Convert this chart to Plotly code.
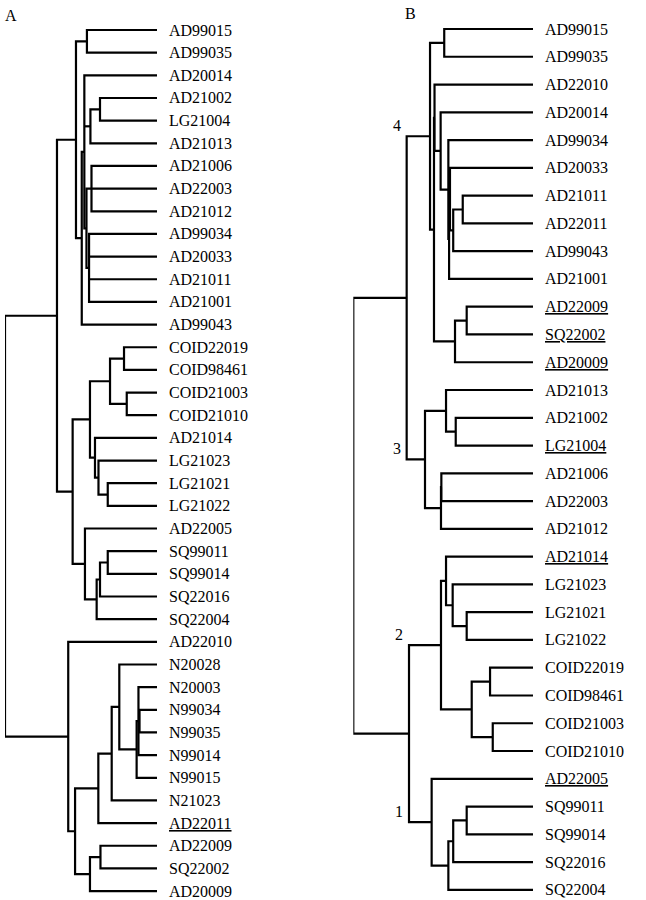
import plotly.graph_objects as go

FONT = "Liberation Serif, Times New Roman, serif"

# ---------------- Tree A ----------------
leaves_A = ["AD99015", "AD99035", "AD20014", "AD21002", "LG21004", "AD21013",
            "AD21006", "AD22003", "AD21012", "AD99034", "AD20033", "AD21011",
            "AD21001", "AD99043", "COID22019", "COID98461", "COID21003",
            "COID21010", "AD21014", "LG21023", "LG21021", "LG21022", "AD22005",
            "SQ99011", "SQ99014", "SQ22016", "SQ22004", "AD22010", "N20028",
            "N20003", "N99034", "N99035", "N99014", "N99015", "N21023",
            "AD22011", "AD22009", "SQ22002", "AD20009"]
underlined_A = ["AD22011"]
# (node name, children, height)
nodes_A = [
    ("a1", ["AD99015", "AD99035"], 0.461),
    ("a2", ["AD21002", "LG21004"], 0.375),
    ("a3", ["a2", "AD21013"], 0.438),
    ("a4", ["AD21006", "AD22003", "AD21012"], 0.431),
    ("a5", ["AD99034", "AD20033", "AD21011", "AD21001"], 0.447),
    ("a6", ["a4", "a5"], 0.464),
    ("a7", ["AD20014", "a3", "a6"], 0.478),
    ("a8", ["a7", "AD99043"], 0.495),
    ("a9", ["a1", "a8"], 0.533),
    ("c1", ["COID22019", "COID98461"], 0.217),
    ("c2", ["COID21003", "COID21010"], 0.199),
    ("c3", ["c1", "c2"], 0.309),
    ("c4", ["LG21021", "LG21022"], 0.324),
    ("c5", ["LG21023", "c4"], 0.385),
    ("c6", ["AD21014", "c5"], 0.408),
    ("c7", ["c3", "c6"], 0.441),
    ("d1", ["SQ99011", "SQ99014"], 0.324),
    ("d2", ["d1", "SQ22016"], 0.375),
    ("d3", ["d2", "SQ22004"], 0.397),
    ("d4", ["AD22005", "d3"], 0.474),
    ("b", ["c7", "d4"], 0.555),
    ("U", ["a9", "b"], 0.658),
    ("na", ["N99034", "N99035"], 0.115),
    ("nb", ["N20003", "na", "N99014"], 0.122),
    ("nc", ["nb", "N99015"], 0.134),
    ("e3", ["N20028", "nc"], 0.248),
    ("e2", ["e3", "N21023"], 0.298),
    ("e1", ["e2", "AD22011"], 0.386),
    ("f1", ["AD22009", "SQ22002"], 0.372),
    ("f2", ["f1", "AD20009"], 0.441),
    ("e", ["e1", "f2"], 0.539),
    ("L", ["AD22010", "e"], 0.584),
    ("rootA", ["U", "L"], 1.0),
]

# ---------------- Tree B ----------------
leaves_B = ["AD99015", "AD99035", "AD22010", "AD20014", "AD99034", "AD20033",
            "AD21011", "AD22011", "AD99043", "AD21001", "AD22009", "SQ22002",
            "AD20009", "AD21013", "AD21002", "LG21004", "AD21006", "AD22003",
            "AD21012", "AD21014", "LG21023", "LG21021", "LG21022", "COID22019",
            "COID98461", "COID21003", "COID21010", "AD22005", "SQ99011",
            "SQ99014", "SQ22016", "SQ22004"]
underlined_B = ["AD22009", "SQ22002", "AD20009", "LG21004", "AD21014", "AD22005"]
nodes_B = [
    ("g1", ["AD99015", "AD99035"], 0.494),
    ("k1", ["AD21011", "AD22011"], 0.391),
    ("k2", ["k1", "AD99043"], 0.444),
    ("k3", ["AD20033", "k2"], 0.462),
    ("k4", ["k3", "AD21001"], 0.467),
    ("j", ["AD99034", "k4"], 0.471),
    ("i", ["AD20014", "j"], 0.514),
    ("h1", ["AD22010", "i"], 0.548),
    ("l1", ["AD22009", "SQ22002"], 0.369),
    ("l2", ["l1", "AD20009"], 0.434),
    ("h", ["h1", "l2"], 0.551),
    ("g", ["g1", "h"], 0.573),
    ("m1", ["AD21002", "LG21004"], 0.430),
    ("m2", ["AD21013", "m1"], 0.484),
    ("m3a", ["AD21006", "AD22003"], 0.510),
    ("m3", ["m3a", "AD21012"], 0.512),
    ("m", ["m2", "m3"], 0.601),
    ("T", ["g", "m"], 0.703),
    ("n1", ["LG21021", "LG21022"], 0.369),
    ("n2", ["LG21023", "n1"], 0.447),
    ("n3", ["AD21014", "n2"], 0.484),
    ("o1", ["COID22019", "COID98461"], 0.239),
    ("o2", ["COID21003", "COID21010"], 0.224),
    ("o3", ["o1", "o2"], 0.341),
    ("n", ["n3", "o3"], 0.512),
    ("p1", ["SQ99011", "SQ99014"], 0.369),
    ("p2", ["p1", "SQ22016"], 0.444),
    ("p3", ["p2", "SQ22004"], 0.471),
    ("p", ["AD22005", "p3"], 0.564),
    ("q", ["n", "p"], 0.690),
    ("rootB", ["T", "q"], 1.0),
]
cluster_labels_B = {"4": "g", "3": "m", "2": "n", "1": "p"}


def layout_tree(leaves, nodes):
    pos = {name: (0.0, float(i)) for i, name in enumerate(leaves)}
    parent = {}
    xs, ys = [], []
    for name, children, h in nodes:
        cys = [pos[c][1] for c in children]
        order = sorted(children, key=lambda c: pos[c][1])
        first, last = order[0], order[-1]
        xs += [pos[first][0], h, h, pos[last][0], None]
        ys += [pos[first][1], pos[first][1], pos[last][1], pos[last][1], None]
        for c in order[1:-1]:
            xs += [pos[c][0], h, None]
            ys += [pos[c][1], pos[c][1], None]
        pos[name] = (h, (min(cys) + max(cys)) / 2)
        for c in children:
            parent[c] = name
    return pos, parent, xs, ys


fig = go.Figure()
annotations = []

W, H = 646, 900
trees = [
    (leaves_A, underlined_A, nodes_A, "x", "y", 5, 157, 30, 22.66),
    (leaves_B, underlined_B, nodes_B, "x2", "y2", 353.3, 533, 29, 27.77),
]
for k, (leaves, under, nodes, xa, ya, px0, px1, py0, pdy) in enumerate(trees):
    pos, parent, xs, ys = layout_tree(leaves, nodes)
    fig.add_trace(go.Scatter(x=xs, y=ys, mode="lines", xaxis=xa, yaxis=ya,
                             line=dict(color="black", width=2.2),
                             hoverinfo="skip", cliponaxis=False))
    for i, name in enumerate(leaves):
        txt = f"<u>{name}</u>" if name in under else name
        annotations.append(dict(x=0, y=i, xref=xa, yref=ya, text=txt,
                                showarrow=False, xanchor="left",
                                yanchor="middle", xshift=10, yshift=0,
                                font=dict(family=FONT, size=16, color="black")))
    axis_idx = "" if k == 0 else "2"
    top = -py0 / pdy
    bottom = (H - py0) / pdy
    fig.update_layout(**{
        f"xaxis{axis_idx}": dict(domain=[px0 / W, px1 / W], range=[1, 0],
                                 visible=False, fixedrange=True),
        f"yaxis{axis_idx}": dict(domain=[0, 1], range=[bottom, top],
                                 visible=False, fixedrange=True),
    })
    if k == 1:
        for lab, node in cluster_labels_B.items():
            par = parent[node]
            annotations.append(dict(x=pos[par][0], y=pos[node][1],
                                    xref=xa, yref=ya, text=lab,
                                    showarrow=False, xanchor="right",
                                    yanchor="bottom", xshift=-4, yshift=0,
                                    font=dict(family=FONT, size=16,
                                              color="black")))

annotations.append(dict(x=11 / W, y=1 - 15 / H, xref="paper", yref="paper",
                        text="A", showarrow=False, xanchor="center",
                        yanchor="middle",
                        font=dict(family=FONT, size=16, color="black")))
annotations.append(dict(x=410 / W, y=1 - 13 / H, xref="paper", yref="paper",
                        text="B", showarrow=False, xanchor="center",
                        yanchor="middle",
                        font=dict(family=FONT, size=16, color="black")))

fig.update_layout(width=W, height=H, autosize=False,
                  margin=dict(l=0, r=0, t=0, b=0),
                  paper_bgcolor="white", plot_bgcolor="white",
                  showlegend=False, annotations=annotations)

fig.write_html("out.html", config={"displayModeBar": False},
               post_script="document.body.style.margin='0px';"
                           "document.body.style.overflow='hidden';")
